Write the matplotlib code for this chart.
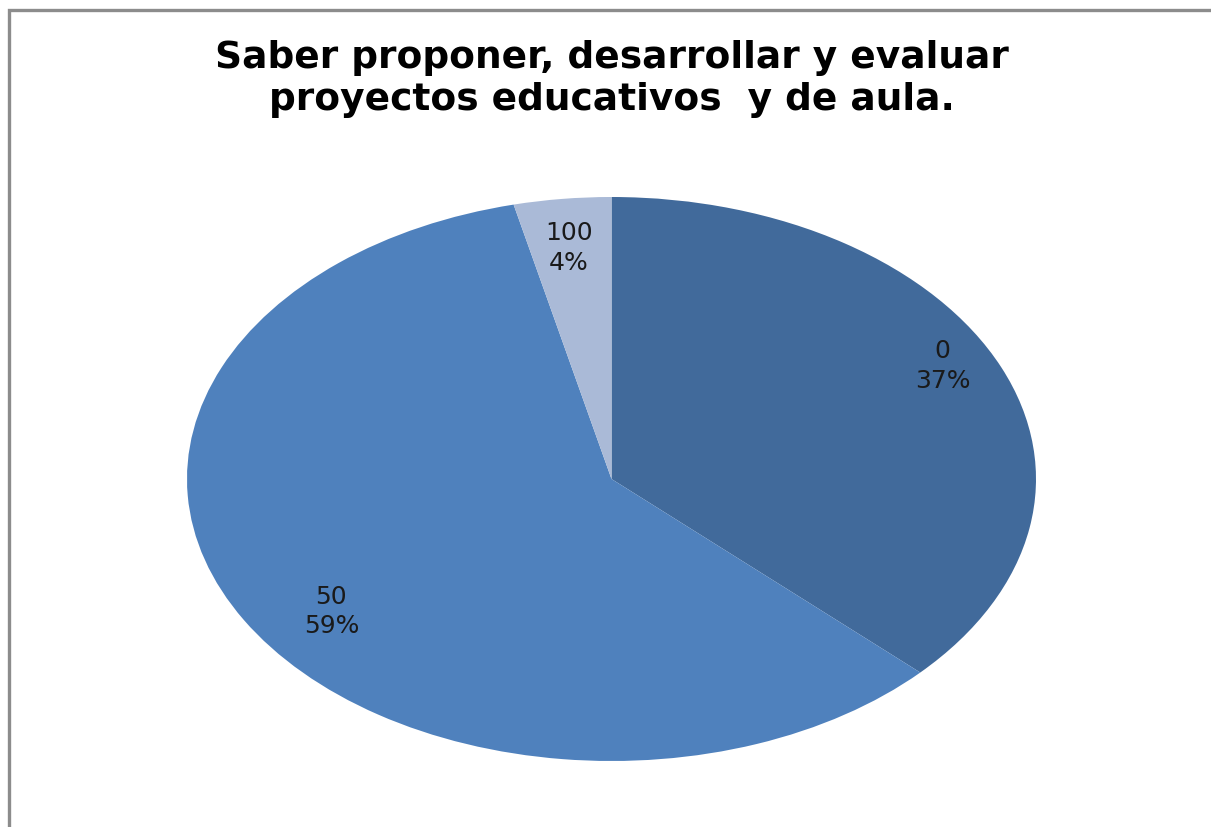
import matplotlib.pyplot as plt
from matplotlib.patches import Rectangle

# datos de la encuesta
categorias = ['0', '50', '100']
valores = [10, 16, 1]
colores = ['#416A9B', '#4F81BD', '#AABAD7']

# posicion de las etiquetas (coordenadas del pie), como en el original
pos_etiquetas = [(0.78, 0.40), (-0.66, -0.47), (-0.10, 0.82)]

fig = plt.figure(figsize=(12.11, 8.27), dpi=100)

# marco del grafico (cortado a la derecha y abajo)
marco = Rectangle((9 / 1211, -0.05), 1.1, 1 - 10 / 827 + 0.05,
                  transform=fig.transFigure, fill=False,
                  edgecolor='#8C8C8C', linewidth=2.4)
fig.patches.append(marco)

fig.text(0.505, 0.952, 'Saber proponer, desarrollar y evaluar\nproyectos educativos  y de aula.',
         ha='center', va='top', fontsize=27, fontweight='bold',
         family='DejaVu Sans', linespacing=1.22)

# pie eliptico: ejes no cuadrados
ax = fig.add_axes([187 / 1211, 66 / 827, 849 / 1211, 564 / 827])
wedges, textos, autotextos = ax.pie(valores, colors=colores, startangle=90,
                                    counterclock=False, autopct='%1.0f%%',
                                    pctdistance=0.83, radius=1)
ax.set_aspect('auto')
ax.set_xlim(-1, 1)
ax.set_ylim(-1, 1)

for cat, t, p in zip(categorias, autotextos, pos_etiquetas):
    t.set_text(cat + '\n' + t.get_text())
    t.set_position(p)
    t.set_fontsize(18)
    t.set_family('DejaVu Sans')
    t.set_color('#1a1a1a')
    t.set_linespacing(1.3)

fig.savefig('out.png', dpi=100)
